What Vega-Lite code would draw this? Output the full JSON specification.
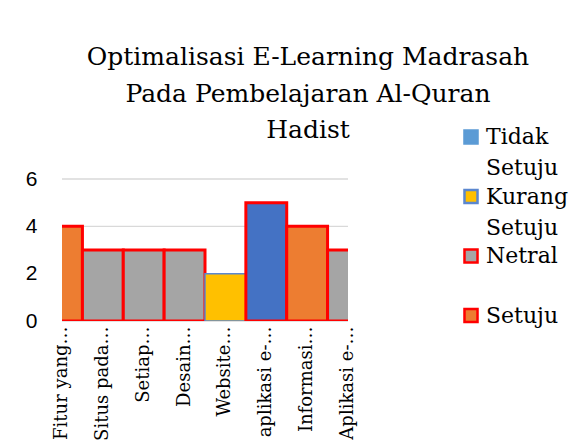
{
  "$schema": "https://vega.github.io/schema/vega-lite/v6.json",
  "autosize": "none",
  "padding": {"left": 62, "top": 179, "right": 236, "bottom": 127},
  "width": 286,
  "height": 142,
  "background": "white",
  "title": {
    "text": ["Optimalisasi E-Learning Madrasah", "Pada Pembelajaran Al-Quran", "Hadist"],
    "font": "DejaVu Serif",
    "fontSize": 25,
    "fontWeight": "normal",
    "color": "#000000",
    "anchor": "middle",
    "frame": "group",
    "dx": 103,
    "dy": 47,
    "lineHeight": 36.5,
    "offset": 30
  },
  "layer": [
    {
      "data": {"values": [{"g": 0}, {"g": 2}, {"g": 4}, {"g": 6}]},
      "mark": {"type": "rule", "color": "#D9D9D9", "strokeWidth": 1.3},
      "encoding": {
        "y": {
          "field": "g",
          "type": "quantitative",
          "scale": {"domain": [0, 6]},
          "axis": {
            "title": null,
            "values": [0, 2, 4, 6],
            "grid": false,
            "domain": false,
            "ticks": false,
            "labelFont": "Liberation Sans",
            "labelFontSize": 21,
            "labelColor": "#000000",
            "labelPadding": 25
          }
        }
      }
    },
    {
      "data": {
        "values": [
          {"item": "Fitur yang…", "value": 4, "series": "Setuju"},
          {"item": "Situs pada…", "value": 3, "series": "Netral"},
          {"item": "Setiap…", "value": 3, "series": "Netral"},
          {"item": "Desain…", "value": 3, "series": "Netral"},
          {"item": "Website…", "value": 2, "series": "Kurang Setuju"},
          {"item": "aplikasi e-…", "value": 5, "series": "Tidak Setuju"},
          {"item": "Informasi…", "value": 4, "series": "Setuju"},
          {"item": "Aplikasi e-…", "value": 3, "series": "Netral"}
        ]
      },
      "mark": {"type": "bar", "clip": true},
      "encoding": {
        "x": {
          "field": "item",
          "type": "nominal",
          "sort": null,
          "scale": {"range": [-20.43, 306.43], "paddingInner": 0, "paddingOuter": 0},
          "axis": {
            "title": null,
            "labelAngle": -90,
            "labelFont": "DejaVu Serif",
            "labelFontSize": 18,
            "labelColor": "#000000",
            "labelPadding": 5,
            "labelLimit": 0,
            "domain": false,
            "ticks": false,
            "grid": false
          }
        },
        "y": {
          "field": "value",
          "type": "quantitative",
          "scale": {"domain": [0, 6]},
          "axis": {
            "title": null,
            "values": [0, 2, 4, 6],
            "grid": false,
            "domain": false,
            "ticks": false,
            "labelFont": "Liberation Sans",
            "labelFontSize": 21,
            "labelColor": "#000000",
            "labelPadding": 25
          }
        },
        "fill": {
          "condition": {"test": "datum.item === 'aplikasi e-…'", "value": "#4472C4"},
          "field": "series",
          "type": "nominal",
          "scale": {
            "domain": ["Tidak Setuju", "Kurang Setuju", "Netral", "Setuju"],
            "range": ["#5B9BD5", "#FFC000", "#A5A5A5", "#ED7D31"]
          },
          "legend": {
            "title": null,
            "orient": "none",
            "legendX": 398,
            "legendY": -53,
            "symbolType": "square",
            "symbolSize": 170,
            "symbolStrokeWidth": 2.5,
            "labelFont": "DejaVu Serif",
            "labelFontSize": 22,
            "labelColor": "#000000",
            "labelOffset": 4,
            "rowPadding": 5.5,
            "labelExpr": "datum.label == 'Netral' ? ['Netral', ''] : datum.label == 'Setuju' ? ['Setuju', ''] : split(datum.label, ' ')"
          }
        },
        "stroke": {
          "condition": {"test": "datum.item === 'aplikasi e-…'", "value": "#FF0000"},
          "field": "series",
          "type": "nominal",
          "scale": {
            "domain": ["Tidak Setuju", "Kurang Setuju", "Netral", "Setuju"],
            "range": ["#5B9BD5", "#5B87CF", "#FF0000", "#FF0000"]
          },
          "legend": {
            "title": null,
            "orient": "none",
            "legendX": 398,
            "legendY": -53,
            "symbolType": "square",
            "symbolSize": 170,
            "symbolStrokeWidth": 2.5,
            "labelFont": "DejaVu Serif",
            "labelFontSize": 22,
            "labelColor": "#000000",
            "labelOffset": 4,
            "rowPadding": 5.5,
            "labelExpr": "datum.label == 'Netral' ? ['Netral', ''] : datum.label == 'Setuju' ? ['Setuju', ''] : split(datum.label, ' ')"
          }
        },
        "strokeWidth": {
          "condition": {"test": "datum.item === 'Website…'", "value": 1.5},
          "value": 3
        }
      }
    }
  ],
  "config": {
    "view": {"stroke": null},
    "style": {"guide-label": {"lineHeight": 31}}
  }
}
